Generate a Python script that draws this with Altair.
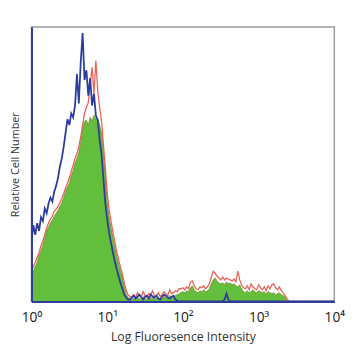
import altair as alt
import pandas as pd

# bin positions: log10 channel 0..4 in 161 steps
step = 0.025
n_bins = 161

green = ([27,31,36,40,47,52,58,64,72,76,80,83,87,90,93,97,101,106,112,117,121,128,134,141,146,152,162,175,184,185,180,188,184,190,186,186,180,172,150,128,100,86,75,65,55,46,38,31,24,15,8,4]
         + [3,2,3,2,4,3,2,5,3,2,4,3,5,2,3,4,2,3,5,4,3,6,4,5,6,7,8]
         + [9,10,9,11,10,14,16,12,10,9,11,10,12,10,11,13,18,22,24,21,19,18,19,17,20,18,19,17,18,16,15,17,13,10,9,11,9,10,12,10,9,11,10,9,10,8,10,9,8,9,7,8,9,7,6,4]
         + [0]*26)

red = ([30,36,40,45,50,57,62,68,75,80,84,87,92,94,97,101,105,110,116,121,126,133,139,146,151,158,168,180,192,198,203,222,239,212,246,215,198,185,160,137,110,94,82,71,61,51,43,35,28,19,12,7,5]
       + [5,7,4,9,6,5,10,6,4,8,7,11,5,6,9,5,7,10,8,6,12,8,9,11,10,13]
       + [13,14,12,15,13,20,21,16,13,12,15,14,16,13,15,18,25,31,29,26,24,22,25,22,24,23,22,21,23,20,31,22,17,14,13,16,12,18,15,13,12,17,14,12,15,11,16,13,17,18,14,12,15,11,9,6]
       + [3] + [0]*25)

blue = ([62,78,68,80,72,86,82,95,90,100,106,102,112,118,126,138,146,158,172,186,180,192,188,200,232,202,244,274,226,236,210,228,200,212,190,185,165,150,125,100,84,70,60,50,41,33,26,19,13,7,4,2]
        + [2,4,6,3,5,7,4,2,5,6,3,7,5,4,6,3,2,5,7,6,4,3,5,6,2,1,0]
        + [0]*23 + [2,8,2] + [0]*56)

tick_values = [1, 10, 100, 1000, 10000]

x_vals = [10 ** (i * step) for i in range(n_bins)]
df = pd.DataFrame({"x": x_vals, "green": green, "red": red, "blue": blue})

FONT = "Open Sans"

xenc = alt.X("x:Q",
             scale=alt.Scale(type="log", domain=[1, 10000], nice=False),
             axis=alt.Axis(title="Log Fluoresence Intensity", values=tick_values,
                           labelExpr="'10' + (datum.value == 1 ? '⁰' : datum.value == 10 ? '¹' : datum.value == 100 ? '²' : datum.value == 1000 ? '³' : '⁴')",
                           grid=False, ticks=False, labelPadding=9, titlePadding=7,
                           labelFontSize=14, titleFontSize=12.5, labelColor="#222222", titleColor="#333333",
                           labelFont=FONT, titleFont=FONT, titleFontWeight="normal",
                           domainColor="#2d3c9e", domainWidth=2, zindex=1,
                           labelFlush=False, labelOverlap=False))

ysc = alt.Scale(domain=[0, 280], nice=False)
yaxis = alt.Axis(title="Relative Cell Number", labels=False, ticks=False, grid=False,
                 titlePadding=11, titleFontSize=11, titleFont=FONT, titleFontWeight="normal",
                 titleColor="#333333", domainColor="#2d3c9e", domainWidth=2, zindex=1)

base = alt.Chart(df)

g = base.mark_area(color="#63be3c", stroke="#7a8a2c", strokeWidth=0.8, clip=True).encode(
    x=xenc, y=alt.Y("green:Q", scale=ysc, axis=yaxis))
r = base.mark_line(color="#e8483a", strokeWidth=1.3, opacity=0.85, clip=True).encode(
    x=xenc, y=alt.Y("red:Q", scale=ysc, axis=yaxis))
b = base.mark_line(color="#2d3c9e", strokeWidth=1.8, clip=True).encode(
    x=xenc, y=alt.Y("blue:Q", scale=ysc, axis=yaxis))

chart = (g + r + b).properties(
    width=309, height=280,
    autosize=alt.AutoSizeParams(type="none"),
    padding={"left": 24, "top": 16, "right": 16, "bottom": 46},
).configure_view(stroke="#9a9a9a", strokeWidth=1.5)

chart.save("out.html", embed_options={"renderer": "svg", "actions": False})
